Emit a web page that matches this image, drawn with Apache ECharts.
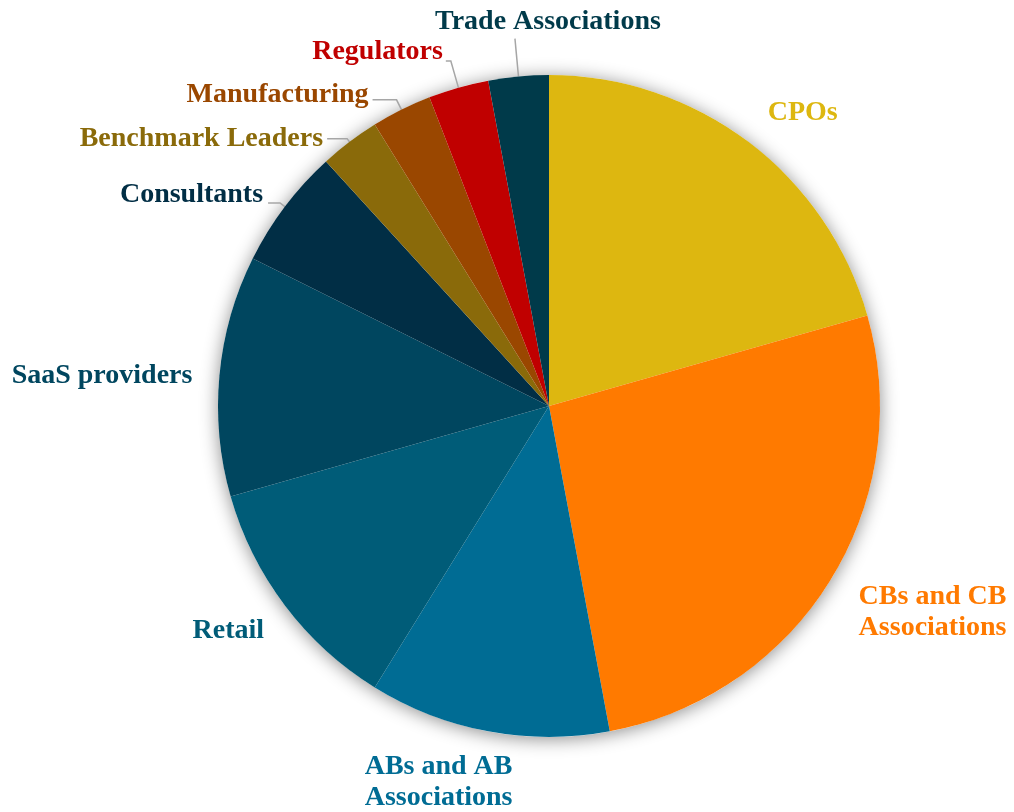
<!DOCTYPE html>
<html>
<head>
<meta charset="utf-8">
<script src="https://cdn.jsdelivr.net/npm/echarts@6/dist/echarts.min.js"></script>
<style>
  html, body { margin: 0; padding: 0; background: #ffffff; }
  #chart { width: 1014px; height: 812px; }
</style>
</head>
<body>
<div id="chart"></div>
<script>
// Stakeholder groups, clockwise from 12 o'clock
const categories = [
  'CPOs', 'CBs and CB Associations', 'ABs and AB Associations', 'Retail',
  'SaaS providers', 'Consultants', 'Benchmark Leaders', 'Manufacturing',
  'Regulators', 'Trade Associations'
];
// Number of participants in each group
const counts = [7, 9, 4, 4, 4, 2, 1, 1, 1, 1];
// Text shown beside each slice (one entry per line)
const labelLines = [
  ['CPOs'], ['CBs and CB', 'Associations'], ['ABs and AB', 'Associations'], ['Retail'],
  ['SaaS providers'], ['Consultants'], ['Benchmark Leaders'], ['Manufacturing'],
  ['Regulators'], ['Trade Associations']
];
const sliceColors = [
  '#DDB710', '#FF7A00', '#006C94', '#005C78', '#00465F',
  '#012E45', '#8A6A0A', '#9A4700', '#C00000', '#003A4A'
];

// Label placement: radial guide length, horizontal run, gap to text,
// whether the guide line is drawn, centred text, and a final nudge.
const placement = [
  { len: 37,   len2: 32,   gap: 0, line: false, center: true },
  { len: 57.5, len2: 53.2, gap: 0, line: false, center: true, dy: 2 },
  { len: 50.5, len2: 40.3, gap: 0, line: false, center: true, dy: 1 },
  { len: 42,   len2: 23,   gap: 0, line: false, center: true },
  { len: 26,   len2: 91.5, gap: 0, line: false, center: true, dy: 3 },
  { len: 6,    len2: 12,   gap: 5, line: true,  dy: -8 },
  { len: 4,    len2: 20,   gap: 4, line: true,  dy: 0 },
  { len: 11,   len2: 24,   gap: 4, line: true,  dy: -5 },
  { len: 27.7, len2: 5,    gap: 3, line: true,  dy: -9 },
  { len: 38,   len2: 0,    gap: 0, line: true,  center: true, dx: 33, dy: -16.6 }
];

const PIE_CENTER = [549, 406];
const PIE_RADIUS = 331;
const FONT = {
  fontFamily: '"Liberation Serif", "DejaVu Serif", serif',
  fontWeight: 'bold',
  fontSize: 28,
  lineHeight: 31
};

const chart = echarts.init(document.getElementById('chart'), null, { renderer: 'canvas' });

const pieData = categories.map((name, i) => {
  const p = placement[i];
  return {
    name: name,
    value: counts[i],
    itemStyle: { color: sliceColors[i] },
    label: {
      color: sliceColors[i],
      formatter: labelLines[i].map(t => '{t|' + t + '}').join('\n'),
      rich: {
        t: Object.assign({ color: sliceColors[i], align: p.center ? 'center' : 'right' }, FONT)
      },
      distanceToLabelLine: p.gap
    },
    labelLine: { show: p.line, length: p.len, length2: p.len2 }
  };
});

chart.setOption({
  backgroundColor: '#ffffff',
  animation: false,
  series: [
    {
      // soft drop shadow behind the whole disc
      type: 'pie',
      z: 1,
      silent: true,
      center: PIE_CENTER,
      radius: PIE_RADIUS,
      label: { show: false },
      labelLine: { show: false },
      emphasis: { disabled: true },
      itemStyle: {
        color: '#ffffff',
        borderWidth: 0,
        shadowBlur: 18,
        shadowColor: 'rgba(0,0,0,0.45)',
        shadowOffsetY: 2
      },
      data: [{ value: 1, name: 'disc' }]
    },
    {
      type: 'pie',
      z: 2,
      center: PIE_CENTER,
      radius: PIE_RADIUS,
      startAngle: 90,
      clockwise: true,
      avoidLabelOverlap: false,
      minAngle: 0,
      emphasis: { disabled: true },
      itemStyle: { borderWidth: 0 },
      label: Object.assign({
        show: true,
        position: 'outside',
        overflow: 'none'
      }, FONT),
      labelLine: {
        lineStyle: { color: '#A6A6A6', width: 1.5 },
        minTurnAngle: 0,
        maxSurfaceAngle: 180
      },
      labelLayout: function (params) {
        const p = placement[params.dataIndex];
        const out = {};
        if (p.center) out.align = 'center';
        if (p.dx) out.dx = p.dx;
        if (p.dy) out.dy = p.dy;
        return out;
      },
      data: pieData
    }
  ]
});
</script>
</body>
</html>
